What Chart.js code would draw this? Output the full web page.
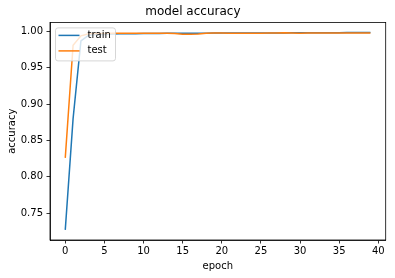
<!DOCTYPE html>
<html>
<head>
<meta charset="utf-8">
<script src="https://cdn.jsdelivr.net/npm/chart.js@4"></script>
<style>
    body { margin: 0; background: #fff; }
    canvas { display: block; }
</style>
</head>
<body>
<canvas id="accChart" width="395" height="278"></canvas>
<script>
// -------------------------------------------------------------------------- Data

const epochs = [0, 1, 2, 3, 4, 5, 6, 7, 8, 9, 10, 11, 12, 13, 14, 15, 16, 17, 18, 19,
    20, 21, 22, 23, 24, 25, 26, 27, 28, 29, 30, 31, 32, 33, 34, 35, 36, 37, 38, 39]

const trainAcc = [0.727, 0.880, 0.987, 0.995, 0.996, 0.996, 0.9965, 0.9968, 0.997, 0.997,
    0.9972, 0.9972, 0.9973, 0.9974, 0.9975, 0.9976, 0.9976, 0.9977, 0.9977, 0.9978,
    0.9978, 0.9978, 0.9979, 0.9979, 0.9979, 0.998, 0.998, 0.998, 0.998, 0.9981,
    0.9981, 0.9982, 0.9983, 0.9983, 0.9984, 0.9984, 0.9985, 0.9985, 0.9986, 0.9986]

const testAcc = [0.826, 0.981, 0.994, 0.997, 0.9972, 0.9972, 0.9974, 0.9975, 0.9976, 0.9977,
    0.9977, 0.9977, 0.9977, 0.9976, 0.9972, 0.9962, 0.9963, 0.9966, 0.9975, 0.9978,
    0.9978, 0.9977, 0.9977, 0.9976, 0.9977, 0.9977, 0.9978, 0.998, 0.9982, 0.998,
    0.9976, 0.9978, 0.998, 0.998, 0.998, 0.998, 0.998, 0.998, 0.998, 0.998]

const seriesNames = ['train', 'test']

let blue = '#1f77b4'
let orange = '#ff7f0e'
const font = 'DejaVu Sans'

// -------------------------------------------------------------------------- Plugins

// top + right spines
const frame = {
    id: 'frame',
    afterDraw(chart) {
        const { ctx, chartArea: a } = chart
        ctx.save()
        ctx.strokeStyle = '#000'
        ctx.lineWidth = 0.8
        ctx.strokeRect(a.left, a.top, a.right - a.left, a.bottom - a.top)
        ctx.restore()
    }
}

// matplotlib style legend, upper left inside the axes
const innerLegend = {
    id: 'innerLegend',
    afterDatasetsDraw(chart) {
        const { ctx, chartArea: a } = chart
        const x = a.left + 5.5, y = a.top + 5.5, w = 60, h = 33, r = 2.5
        ctx.save()
        ctx.beginPath()
        ctx.roundRect(x, y, w, h, r)
        ctx.fillStyle = 'rgba(255,255,255,0.8)'
        ctx.fill()
        ctx.strokeStyle = 'rgba(204,204,204,0.8)'
        ctx.lineWidth = 1
        ctx.stroke()
        ctx.font = '10px "' + font + '"'
        ctx.textBaseline = 'middle'
        ctx.fillStyle = '#000'
        chart.data.datasets.forEach((ds, i) => {
            const ly = y + 7.5 + i * 15.5
            ctx.beginPath()
            ctx.moveTo(x + 3, ly)
            ctx.lineTo(x + 24, ly)
            ctx.strokeStyle = ds.borderColor
            ctx.lineWidth = 1.5
            ctx.stroke()
            ctx.fillText(ds.label, x + 32, ly)
        })
        ctx.restore()
    }
}

// -------------------------------------------------------------------------- Chart

const axisCommon = {
    type: 'linear',
    border: { display: true, color: '#000', width: 0.8 },
    grid: { drawOnChartArea: false, drawTicks: true, tickLength: 3.5, tickColor: '#000', tickWidth: 0.8 },
}

let accChart = new Chart(document.getElementById('accChart'), {
    type: 'line',
    data: {
        datasets: [{
            label: seriesNames[0],
            data: epochs.map((e, i) => ({ x: e, y: trainAcc[i] })),
            borderColor: blue,
            backgroundColor: blue,
            borderWidth: 1.5,
            pointRadius: 0,
            tension: 0,
            order: 1
        }, {
            label: seriesNames[1],
            data: epochs.map((e, i) => ({ x: e, y: testAcc[i] })),
            borderColor: orange,
            backgroundColor: orange,
            borderWidth: 1.5,
            pointRadius: 0,
            tension: 0,
            order: 0
        }]
    },
    options: {
        responsive: false,
        animation: false,
        devicePixelRatio: 1,
        layout: { padding: { left: 0, right: 9.3, top: 0, bottom: 0 } },
        plugins: {
            legend: { display: false },
            tooltip: { enabled: false },
            title: {
                display: true,
                text: 'model accuracy',
                color: '#000',
                font: { family: font, size: 12, weight: 'normal' },
                padding: { top: 5, bottom: 3 }
            }
        },
        scales: {
            x: {
                ...axisCommon,
                min: -1.95,
                max: 40.95,
                afterFit(scale) { scale.height = 38 },
                ticks: {
                    stepSize: 5,
                    includeBounds: false,
                    autoSkip: false,
                    maxRotation: 0,
                    padding: 2,
                    color: '#000',
                    font: { family: font, size: 10 }
                },
                title: {
                    display: true,
                    text: 'epoch',
                    color: '#000',
                    font: { family: font, size: 10 },
                    padding: { top: 0, bottom: 6 }
                }
            },
            y: {
                ...axisCommon,
                min: 0.713,
                max: 1.0125,
                afterFit(scale) { scale.width = 50 },
                ticks: {
                    stepSize: 0.05,
                    includeBounds: false,
                    autoSkip: false,
                    padding: 3.5,
                    color: '#000',
                    font: { family: font, size: 10 },
                    callback: v => v.toFixed(2)
                },
                title: {
                    display: true,
                    text: 'accuracy',
                    color: '#000',
                    font: { family: font, size: 10 },
                    padding: { top: 6, bottom: 0 }
                }
            }
        }
    },
    plugins: [frame, innerLegend]
})
</script>
</body>
</html>
